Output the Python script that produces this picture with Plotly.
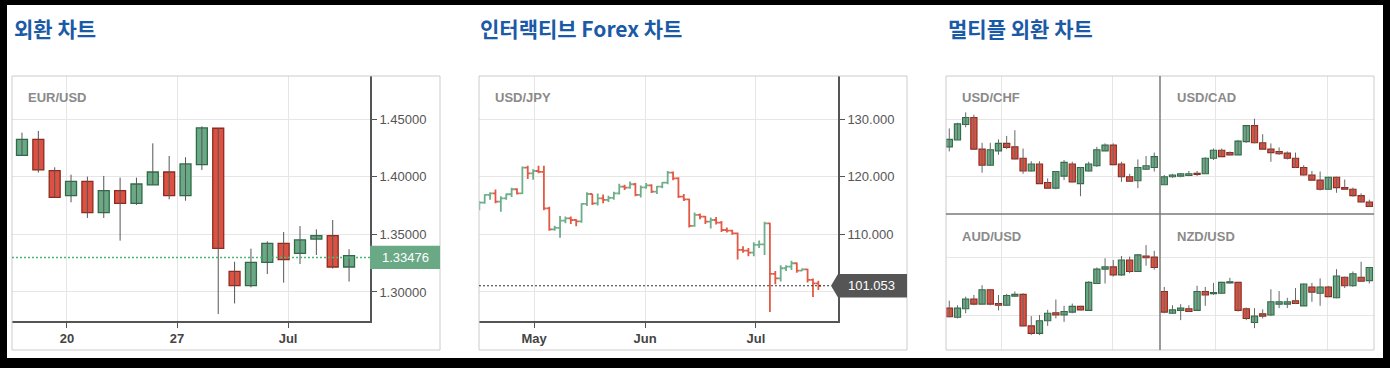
import plotly.graph_objects as go

W, H = 1390, 368

# ---------------- data ----------------
eur_ticks = ["20", "27", "Jul"]
eur_tick_pos = [2.75, 9.48, 16.27]
eur_open = [1.4187, 1.4326, 1.4054, 1.3837, 1.3961, 1.3689, 1.3880, 1.3770, 1.3930, 1.4042, 1.3837,
            1.4106, 1.4422, 1.3179, 1.3055, 1.3258, 1.3423, 1.3336, 1.3460, 1.3489, 1.3217]
eur_high = [1.4384, 1.4399, 1.4083, 1.4019, 1.4002, 1.4008, 1.3993, 1.3993, 1.4291, 1.4181, 1.4170,
            1.4439, 1.4425, 1.3263, 1.3376, 1.3440, 1.3521, 1.3573, 1.3544, 1.3625, 1.3371]
eur_low = [1.4187, 1.4037, 1.3822, 1.3779, 1.3643, 1.3643, 1.3446, 1.3756, 1.3930, 1.3805, 1.3793,
           1.4060, 1.2809, 1.2901, 1.3040, 1.3156, 1.3081, 1.3243, 1.3321, 1.3203, 1.3090]
eur_close = [1.4326, 1.4060, 1.3822, 1.3961, 1.3689, 1.3880, 1.3770, 1.3938, 1.4042, 1.3837, 1.4112,
             1.4425, 1.3379, 1.3055, 1.3258, 1.3423, 1.3281, 1.3452, 1.3489, 1.3217, 1.3316]
eur_yticks = [1.30, 1.35, 1.40, 1.45]
eur_quote_text = "1.33476"
eur_quote_level = 1.3300

jpy_ticks = ["May", "Jun", "Jul"]
jpy_tick_pos = [10.17, 30.8, 51.4]
jpy_yticks = [100, 110, 120, 130]
jpy_ytext = ["", "110.000", "120.000", "130.000"]
jpy_open = [114.80, 115.51, 116.84, 117.13, 115.68, 116.26, 116.96, 117.83, 117.13, 121.59, 120.61,
            121.01, 120.84, 114.52, 110.87, 111.10, 112.38, 112.78, 112.49, 112.26, 115.28, 117.01,
            115.39, 116.26, 115.97, 116.32, 117.13, 118.29, 118.12, 118.70, 116.84, 118.17, 118.52,
            117.42, 118.29, 118.99, 120.72, 119.74, 116.55, 116.09, 111.45, 113.36, 113.07, 112.20,
            112.49, 112.03, 110.75, 110.64, 110.17, 107.28, 107.16, 106.81, 108.15, 108.26, 111.91,
            103.10, 102.35, 104.09, 104.38, 104.96, 103.68, 103.91, 102.06, 101.48]
jpy_high = [115.8, 116.95, 117.3, 117.8, 116.6, 117.1, 118.1, 118.0, 121.8, 121.9, 121.3, 121.9,
            121.9, 114.8, 111.5, 113.2, 113.1, 113.1, 112.6, 115.4, 117.3, 117.0, 117.1, 116.9,
            116.7, 117.4, 118.8, 118.6, 119.2, 118.9, 118.5, 118.9, 118.7, 118.4, 119.1, 121.0,
            120.9, 119.9, 117.0, 116.2, 113.8, 113.6, 113.2, 112.9, 113.0, 112.3, 111.2, 110.8,
            110.3, 107.9, 107.6, 108.6, 108.9, 112.2, 112.0, 103.6, 104.6, 104.6, 105.4, 105.1,
            104.1, 104.0, 102.3, 101.9]
jpy_low = [114.2, 115.3, 116.0, 115.4, 113.9, 116.0, 116.5, 116.9, 117.0, 119.6, 119.5, 120.6,
           114.2, 110.6, 110.6, 109.4, 111.9, 111.8, 111.4, 112.0, 114.9, 115.1, 115.0, 115.4,
           115.6, 116.0, 116.9, 117.7, 117.9, 116.6, 116.4, 117.9, 117.2, 117.0, 118.0, 118.7,
           119.4, 116.3, 115.8, 111.2, 111.3, 112.6, 111.8, 111.0, 111.7, 110.4, 110.3, 109.9,
           105.6, 106.8, 106.2, 106.2, 107.6, 106.4, 96.5, 101.3, 101.8, 103.6, 103.8, 103.3,
           103.6, 101.6, 99.1, 100.3]
jpy_close = [115.51, 116.84, 117.13, 115.68, 116.26, 116.96, 117.83, 117.13, 121.59, 120.61, 121.01,
             120.84, 114.52, 110.87, 111.10, 112.38, 112.78, 112.49, 112.26, 115.28, 117.01, 115.39,
             116.26, 115.97, 116.32, 117.13, 118.29, 118.12, 118.70, 116.84, 118.17, 118.52, 117.42,
             118.29, 118.99, 120.72, 119.74, 116.55, 116.09, 111.45, 113.36, 113.07, 112.20, 112.49,
             112.03, 110.75, 110.64, 110.17, 107.28, 107.16, 106.81, 108.15, 108.26, 111.91, 103.10,
             102.35, 104.09, 104.38, 104.96, 103.68, 103.91, 102.06, 101.48, 101.053]
jpy_quote = 101.053

chf_open = [0.9852, 0.9864, 0.9891, 0.9903, 0.9848, 0.9820, 0.9845, 0.9858, 0.9852, 0.9832, 0.9810, 0.9822, 0.9790,
            0.9780, 0.9801, 0.9822, 0.9788, 0.9810, 0.9819, 0.9845, 0.9855, 0.9822, 0.9800, 0.9793, 0.9813, 0.9816]
chf_high = [0.9884, 0.9894, 0.9912, 0.9908, 0.9859, 0.9859, 0.9865, 0.9871, 0.9881, 0.9849, 0.9827, 0.9827, 0.9797,
            0.9810, 0.9829, 0.9826, 0.9817, 0.9826, 0.9852, 0.9858, 0.9858, 0.9826, 0.9805, 0.9830, 0.9836, 0.9842]
chf_low = [0.9844, 0.9864, 0.9886, 0.9847, 0.9807, 0.9820, 0.9838, 0.9848, 0.9830, 0.9805, 0.9809, 0.9788, 0.9780,
           0.9778, 0.9794, 0.9790, 0.9766, 0.9809, 0.9817, 0.9845, 0.9820, 0.9791, 0.9791, 0.9780, 0.9812, 0.9809]
chf_close = [0.9865, 0.9892, 0.9903, 0.9848, 0.9820, 0.9847, 0.9858, 0.9851, 0.9831, 0.9810, 0.9822, 0.9788, 0.9780,
             0.9809, 0.9825, 0.9791, 0.9816, 0.9822, 0.9847, 0.9855, 0.9821, 0.9800, 0.9792, 0.9816, 0.9819, 0.9835]
chf_grid = [0.98, 0.99]

cad_open = [1.3086, 1.3100, 1.3101, 1.3102, 1.3106, 1.3105, 1.3132, 1.3146, 1.3142, 1.3138, 1.3161, 1.3189, 1.3159,
            1.3148, 1.3144, 1.3141, 1.3132, 1.3116, 1.3103, 1.3094, 1.3078, 1.3099, 1.3081, 1.3078, 1.3067, 1.3056]
cad_high = [1.3103, 1.3105, 1.3106, 1.3110, 1.3110, 1.3134, 1.3149, 1.3149, 1.3144, 1.3164, 1.3190, 1.3201, 1.3174,
            1.3158, 1.3151, 1.3144, 1.3142, 1.3120, 1.3110, 1.3109, 1.3100, 1.3100, 1.3095, 1.3081, 1.3071, 1.3060]
cad_low = [1.3086, 1.3098, 1.3099, 1.3101, 1.3101, 1.3105, 1.3129, 1.3134, 1.3137, 1.3138, 1.3159, 1.3158, 1.3148,
           1.3126, 1.3138, 1.3130, 1.3115, 1.3102, 1.3093, 1.3076, 1.3078, 1.3072, 1.3077, 1.3065, 1.3055, 1.3047]
cad_close = [1.3100, 1.3103, 1.3105, 1.3105, 1.3104, 1.3132, 1.3146, 1.3135, 1.3138, 1.3162, 1.3189, 1.3159, 1.3148,
             1.3142, 1.3140, 1.3132, 1.3116, 1.3103, 1.3094, 1.3078, 1.3099, 1.3081, 1.3078, 1.3067, 1.3056, 1.3048]
cad_grid = [1.31, 1.32]

aud_open = [0.7512, 0.7496, 0.7511, 0.7528, 0.7519, 0.7544, 0.7520, 0.7517, 0.7533, 0.7536, 0.7481, 0.7468, 0.7490,
            0.7504, 0.7500, 0.7505, 0.7515, 0.7508, 0.7555, 0.7580, 0.7584, 0.7570, 0.7596, 0.7576, 0.7603, 0.7601]
aud_high = [0.7525, 0.7517, 0.7532, 0.7535, 0.7552, 0.7545, 0.7535, 0.7537, 0.7541, 0.7538, 0.7498, 0.7500, 0.7509,
            0.7527, 0.7516, 0.7520, 0.7516, 0.7559, 0.7583, 0.7599, 0.7596, 0.7603, 0.7602, 0.7606, 0.7622, 0.7612]
aud_low = [0.7496, 0.7494, 0.7503, 0.7517, 0.7519, 0.7517, 0.7508, 0.7516, 0.7532, 0.7480, 0.7465, 0.7465, 0.7481,
           0.7494, 0.7488, 0.7503, 0.7508, 0.7508, 0.7554, 0.7555, 0.7567, 0.7568, 0.7573, 0.7576, 0.7586, 0.7579]
aud_close = [0.7497, 0.7512, 0.7528, 0.7519, 0.7544, 0.7519, 0.7517, 0.7534, 0.7536, 0.7481, 0.7468, 0.7490, 0.7503,
             0.7500, 0.7506, 0.7515, 0.7509, 0.7557, 0.7580, 0.7584, 0.7570, 0.7596, 0.7576, 0.7605, 0.7600, 0.7583]
aud_grid = [0.75, 0.76]

nzd_open = [0.7041, 0.7003, 0.7008, 0.7011, 0.7008, 0.7041, 0.7037, 0.7038, 0.7056, 0.7057, 0.7011, 0.6987, 0.7002,
            0.7000, 0.7019, 0.7019, 0.7025, 0.7016, 0.7049, 0.7038, 0.7049, 0.7030, 0.7066, 0.7051, 0.7066, 0.7060]
nzd_high = [0.7049, 0.7017, 0.7019, 0.7017, 0.7051, 0.7049, 0.7056, 0.7058, 0.7065, 0.7058, 0.7013, 0.7012, 0.7010,
            0.7045, 0.7042, 0.7030, 0.7047, 0.7055, 0.7056, 0.7064, 0.7051, 0.7080, 0.7067, 0.7076, 0.7093, 0.7084]
nzd_low = [0.7003, 0.7002, 0.6991, 0.7005, 0.7008, 0.7016, 0.7035, 0.7037, 0.7055, 0.7006, 0.6991, 0.6977, 0.6994,
           0.6998, 0.7012, 0.7012, 0.7019, 0.7016, 0.7023, 0.7016, 0.7031, 0.7029, 0.7047, 0.7049, 0.7058, 0.7055]
nzd_close = [0.7005, 0.7009, 0.7012, 0.7006, 0.7041, 0.7035, 0.7039, 0.7057, 0.7058, 0.7008, 0.6994, 0.6998, 0.6998,
             0.7023, 0.7023, 0.7023, 0.7020, 0.7054, 0.7040, 0.7049, 0.7032, 0.7068, 0.7051, 0.7072, 0.7059, 0.7083]
nzd_grid = [0.70, 0.71]

titles = ["외환 차트", "인터랙티브 Forex 차트", "멀티플 외환 차트"]
pair_names = ["EUR/USD", "USD/JPY", "USD/CHF", "USD/CAD", "AUD/USD", "NZD/USD"]

# ---------------- styling ----------------
UP_FILL, UP_EDGE = "#6aa985", "#2f6b47"
DN_FILL, DN_EDGE = "#dc5242", "#8c2b20"
GRID = "#e6e6e6"
AXIS = "#555555"
TICKFONT = "Liberation Sans, Arial, sans-serif"
KFONT = "Noto Sans CJK KR, sans-serif"


def px(x):
    return x / W


def py(y):
    return 1 - y / H


fig = go.Figure()


def add_candles(o, h, l, c, xa, ya, width, eps, wick="#5a5a5a", edge_w=1.1):
    idx = list(range(len(o)))
    wx, wy = [], []
    for i in idx:
        wx += [i, i, None]
        wy += [l[i], h[i], None]
    fig.add_trace(go.Scatter(x=wx, y=wy, mode="lines", line=dict(color=wick, width=1),
                             xaxis=xa, yaxis=ya, hoverinfo="skip", showlegend=False))
    base = [min(a, b) for a, b in zip(o, c)]
    size = [max(abs(b - a), eps) for a, b in zip(o, c)]
    up = [b >= a for a, b in zip(o, c)]
    fig.add_trace(go.Bar(x=idx, y=size, base=base, width=width,
                         marker=dict(color=[UP_FILL if u else DN_FILL for u in up],
                                     line=dict(color=[UP_EDGE if u else DN_EDGE for u in up], width=edge_w)),
                         xaxis=xa, yaxis=ya, showlegend=False, hoverinfo="skip"))


# Panel 1: EUR/USD candles
add_candles(eur_open, eur_high, eur_low, eur_close, "x", "y", 0.67, 0.0002, wick="#555555", edge_w=1.3)

# Panel 2: USD/JPY OHLC
fig.add_trace(go.Ohlc(x=list(range(len(jpy_open))), open=jpy_open, high=jpy_high, low=jpy_low, close=jpy_close,
                      xaxis="x2", yaxis="y2", tickwidth=0.5,
                      increasing=dict(line=dict(color="#6fae8a", width=1.8)),
                      decreasing=dict(line=dict(color="#e25a45", width=1.8)),
                      showlegend=False, hoverinfo="skip"))

# Panel 3: four mini candle charts
add_candles(chf_open, chf_high, chf_low, chf_close, "x3", "y3", 0.76, 0.00003, wick="#666666")
add_candles(cad_open, cad_high, cad_low, cad_close, "x4", "y4", 0.76, 0.00003, wick="#666666")
add_candles(aud_open, aud_high, aud_low, aud_close, "x5", "y5", 0.76, 0.00003, wick="#666666")
add_candles(nzd_open, nzd_high, nzd_low, nzd_close, "x6", "y6", 0.76, 0.00003, wick="#666666")

# ---------------- axes ----------------
main_y = [py(321), py(76)]
top_y = [py(214), py(76)]
bot_y = [py(350), py(214)]
left_x = [px(946), px(1160)]
right_x = [px(1160), px(1374)]

common_x = dict(showgrid=True, gridcolor=GRID, gridwidth=1, zeroline=False, fixedrange=True)
common_y = dict(showgrid=True, gridcolor=GRID, gridwidth=1, zeroline=False, fixedrange=True)

layout_axes = dict(
    xaxis=dict(domain=[px(12), px(370)], range=[-0.61, 21.28], anchor="y",
               tickmode="array", tickvals=eur_tick_pos, ticktext=eur_ticks,
               showline=True, linecolor=AXIS, linewidth=1.6, ticks="outside", ticklen=5, tickcolor=AXIS,
               tickfont=dict(family=TICKFONT, size=13, color="#444444", weight="bold"), **common_x),
    yaxis=dict(domain=main_y, range=[1.2748, 1.4876], anchor="x", side="right",
               tickmode="array", tickvals=eur_yticks, tickformat=".5f",
               showline=True, linecolor=AXIS, linewidth=1.6, ticks="outside", ticklen=5, tickcolor=AXIS,
               tickfont=dict(family=TICKFONT, size=13, color="#555555"), **common_y),
    xaxis2=dict(domain=[px(479), px(838)], range=[-0.06, 66.65], anchor="y2",
                tickmode="array", tickvals=jpy_tick_pos, ticktext=jpy_ticks,
                showline=True, linecolor=AXIS, linewidth=1.6, ticks="outside", ticklen=5, tickcolor=AXIS,
                rangeslider=dict(visible=False),
                tickfont=dict(family=TICKFONT, size=13, color="#444444", weight="bold"), **common_x),
    yaxis2=dict(domain=main_y, range=[94.92, 137.53], anchor="x2", side="right",
                tickmode="array", tickvals=jpy_yticks, ticktext=jpy_ytext,
                showline=True, linecolor=AXIS, linewidth=1.6, ticks="outside", ticklen=5, tickcolor=AXIS,
                tickfont=dict(family=TICKFONT, size=13, color="#555555"), **common_y),
    xaxis3=dict(domain=left_x, range=[-0.40, 25.70], anchor="y3", tickvals=[6.34, 19.88],
                showticklabels=False, **common_x),
    yaxis3=dict(domain=top_y, range=[0.97350, 0.99754], anchor="x3", tickvals=chf_grid,
                showticklabels=False, **common_y),
    xaxis4=dict(domain=right_x, range=[-0.52, 25.57], anchor="y4", tickvals=[6.30, 19.84],
                showticklabels=False, **common_x),
    yaxis4=dict(domain=top_y, range=[1.30350, 1.32754], anchor="x4", tickvals=cad_grid,
                showticklabels=False, **common_y),
    xaxis5=dict(domain=left_x, range=[-0.40, 25.70], anchor="y5", tickvals=[6.34, 19.88],
                showticklabels=False, **common_x),
    yaxis5=dict(domain=bot_y, range=[0.74389, 0.76763], anchor="x5", tickvals=aud_grid,
                showticklabels=False, **common_y),
    xaxis6=dict(domain=right_x, range=[-0.52, 25.57], anchor="y6", tickvals=[6.30, 19.84],
                showticklabels=False, **common_x),
    yaxis6=dict(domain=bot_y, range=[0.69389, 0.71763], anchor="x6", tickvals=nzd_grid,
                showticklabels=False, **common_y),
)

shapes = [
    # white card on dark frame
    dict(type="rect", xref="paper", yref="paper", x0=px(7), x1=px(1383), y0=py(358), y1=py(5),
         fillcolor="white", line=dict(width=0), layer="below"),
    # chart boxes
    dict(type="rect", xref="paper", yref="paper", x0=px(12), x1=px(440), y0=py(350), y1=py(76),
         line=dict(color="#cccccc", width=1), layer="above"),
    dict(type="rect", xref="paper", yref="paper", x0=px(479), x1=px(907), y0=py(350), y1=py(76),
         line=dict(color="#cccccc", width=1), layer="above"),
    dict(type="rect", xref="paper", yref="paper", x0=px(946), x1=px(1374), y0=py(350), y1=py(76),
         line=dict(color="#cccccc", width=1), layer="above"),
    # multi-chart dividers
    dict(type="line", xref="paper", yref="paper", x0=px(1160), x1=px(1160), y0=py(350), y1=py(76),
         line=dict(color="#7a7a7a", width=1.5), layer="above"),
    dict(type="line", xref="paper", yref="paper", x0=px(946), x1=px(1374), y0=py(214), y1=py(214),
         line=dict(color="#7a7a7a", width=1.5), layer="above"),
    # EUR current price line + label box
    dict(type="line", xref="paper", yref="y", x0=px(12), x1=px(370), y0=eur_quote_level, y1=eur_quote_level,
         line=dict(color="#4fb477", width=1.4, dash="2px,2px"), layer="above"),
    dict(type="rect", xref="paper", yref="y", x0=px(370), x1=px(440),
         y0=eur_quote_level - 0.0101, y1=eur_quote_level + 0.0101,
         fillcolor="#6aa985", line=dict(width=0), layer="above"),
    # JPY current price line + label arrow box
    dict(type="line", xref="paper", yref="y2", x0=px(479), x1=px(831), y0=jpy_quote, y1=jpy_quote,
         line=dict(color="#333333", width=1.2, dash="2px,2px"), layer="above"),
    dict(type="path", xref="paper", yref="y2",
         path=(f"M {px(831)},{jpy_quote} L {px(838)},{jpy_quote + 2.03} L {px(907)},{jpy_quote + 2.03} "
               f"L {px(907)},{jpy_quote - 2.03} L {px(838)},{jpy_quote - 2.03} Z"),
         fillcolor="#555555", line=dict(width=0), layer="above"),
]

annotations = []
for t, x in zip(titles, [12, 478, 946]):
    annotations.append(dict(text=t, xref="paper", yref="paper", x=px(x), y=py(28), xanchor="left",
                            yanchor="middle", showarrow=False,
                            font=dict(family=KFONT, size=21, color="#1b5aa6", weight="bold")))
for name, (x, y) in zip(pair_names, [(26, 98), (493, 98), (960, 98), (1175, 98), (960, 236), (1175, 236)]):
    annotations.append(dict(text=name, xref="paper", yref="paper", x=px(x), y=py(y), xanchor="left",
                            yanchor="middle", showarrow=False,
                            font=dict(family=TICKFONT, size=13, color="#8a8a8a", weight="bold")))
annotations.append(dict(text=eur_quote_text, xref="paper", yref="y", x=px(380), y=eur_quote_level,
                        xanchor="left", yanchor="middle", showarrow=False,
                        font=dict(family=TICKFONT, size=13, color="white")))
annotations.append(dict(text=f"{jpy_quote:.3f}", xref="paper", yref="y2", x=px(846), y=jpy_quote,
                        xanchor="left", yanchor="middle", showarrow=False,
                        font=dict(family=TICKFONT, size=13, color="white")))

fig.update_layout(
    width=W, height=H, margin=dict(l=0, r=0, t=0, b=0),
    paper_bgcolor="#000000", plot_bgcolor="rgba(0,0,0,0)",
    showlegend=False, barmode="overlay", hovermode=False,
    shapes=shapes, annotations=annotations,
    **layout_axes,
)

fig.write_html("out.html", config={"displayModeBar": False},
               post_script="document.body.style.margin='0';document.body.style.padding='0';"
                           "document.body.style.background='#000';document.body.style.overflow='hidden';")
